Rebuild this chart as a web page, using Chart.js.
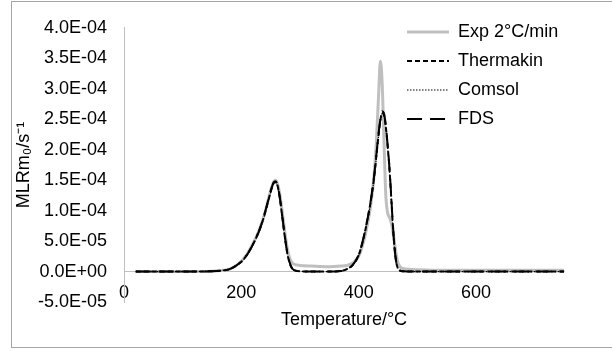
<!DOCTYPE html>
<html>
<head>
<meta charset="utf-8">
<script src="https://cdn.jsdelivr.net/npm/chart.js@4.4.1/dist/chart.umd.min.js"></script>
<style>
  html, body { margin: 0; padding: 0; background: #fff; }
  #wrap { position: relative; width: 612px; height: 351px; overflow: hidden; }
  #frame { position: absolute; left: 11px; top: 1px; width: 700px; height: 347px; box-sizing: border-box;
           border: 1px solid #a6a6a6; pointer-events: none; }
</style>
</head>
<body>
<div id="wrap">
  <canvas id="mlr" width="612" height="351"></canvas>
  <div id="frame"></div>
</div>
<script>
// temperature (°C) shared by all series
const temps = [20, 50, 100, 150, 170, 180, 190, 200, 210, 220,
  230, 235, 240, 245, 250, 255, 258, 262, 266, 270,
  274, 278, 282, 286, 290, 300, 320, 350, 370, 380,
  390, 400, 405, 410, 420, 426, 430, 434, 437, 440,
  443, 446, 449, 452, 455, 458, 461, 464, 468, 475,
  500, 550, 600, 650, 700, 750];

const expData = [0, 0, 0, 0.005e-4, 0.02e-4, 0.04e-4, 0.09e-4, 0.17e-4, 0.29e-4, 0.46e-4,
  0.67e-4, 0.80e-4, 0.96e-4, 1.14e-4, 1.33e-4, 1.47e-4, 1.50e-4, 1.43e-4, 1.24e-4, 0.96e-4,
  0.66e-4, 0.40e-4, 0.23e-4, 0.15e-4, 0.12e-4, 0.10e-4, 0.09e-4, 0.08e-4, 0.09e-4, 0.10e-4,
  0.14e-4, 0.25e-4, 0.38e-4, 0.55e-4, 1.05e-4, 1.55e-4, 2.10e-4, 2.90e-4, 3.45e-4, 3.10e-4,
  2.20e-4, 1.30e-4, 0.98e-4, 0.90e-4, 0.82e-4, 0.68e-4, 0.48e-4, 0.28e-4, 0.12e-4, 0.05e-4,
  0.03e-4, 0.02e-4, 0.02e-4, 0.02e-4, 0.02e-4, 0.02e-4];

const thermakinData = [0, 0, 0, 0.005e-4, 0.02e-4, 0.04e-4, 0.09e-4, 0.16e-4, 0.28e-4, 0.45e-4,
  0.66e-4, 0.79e-4, 0.95e-4, 1.13e-4, 1.31e-4, 1.45e-4, 1.47e-4, 1.40e-4, 1.18e-4, 0.88e-4,
  0.58e-4, 0.32e-4, 0.15e-4, 0.06e-4, 0.025e-4, 0.005e-4, 0, 0, 0.01e-4, 0.04e-4,
  0.11e-4, 0.27e-4, 0.42e-4, 0.62e-4, 1.12e-4, 1.52e-4, 1.88e-4, 2.25e-4, 2.48e-4, 2.61e-4,
  2.58e-4, 2.40e-4, 2.10e-4, 1.75e-4, 1.30e-4, 0.80e-4, 0.40e-4, 0.15e-4, 0.04e-4, 0.005e-4,
  0, 0, 0, 0, 0, 0];

const comsolData = [0, 0, 0, 0.005e-4, 0.02e-4, 0.04e-4, 0.09e-4, 0.16e-4, 0.27e-4, 0.44e-4,
  0.65e-4, 0.78e-4, 0.94e-4, 1.12e-4, 1.30e-4, 1.44e-4, 1.46e-4, 1.39e-4, 1.17e-4, 0.87e-4,
  0.57e-4, 0.31e-4, 0.15e-4, 0.06e-4, 0.02e-4, 0.005e-4, 0, 0, 0.01e-4, 0.04e-4,
  0.11e-4, 0.26e-4, 0.41e-4, 0.61e-4, 1.10e-4, 1.50e-4, 1.86e-4, 2.23e-4, 2.46e-4, 2.59e-4,
  2.56e-4, 2.38e-4, 2.08e-4, 1.73e-4, 1.28e-4, 0.79e-4, 0.39e-4, 0.15e-4, 0.04e-4, 0.005e-4,
  0, 0, 0, 0, 0, 0];

const fdsData = [0, 0, 0, 0.005e-4, 0.02e-4, 0.04e-4, 0.09e-4, 0.17e-4, 0.28e-4, 0.45e-4,
  0.66e-4, 0.80e-4, 0.96e-4, 1.14e-4, 1.32e-4, 1.46e-4, 1.48e-4, 1.41e-4, 1.19e-4, 0.89e-4,
  0.59e-4, 0.33e-4, 0.16e-4, 0.06e-4, 0.025e-4, 0.005e-4, 0, 0, 0.01e-4, 0.04e-4,
  0.11e-4, 0.27e-4, 0.43e-4, 0.63e-4, 1.13e-4, 1.54e-4, 1.90e-4, 2.27e-4, 2.50e-4, 2.63e-4,
  2.60e-4, 2.42e-4, 2.12e-4, 1.77e-4, 1.32e-4, 0.82e-4, 0.41e-4, 0.16e-4, 0.04e-4, 0.005e-4,
  0, 0, 0, 0, 0, 0];

const seriesNames = ['Exp 2°C/min', 'Thermakin', 'Comsol', 'FDS'];
const xTitle = 'Temperature/°C';
const yTitle = 'MLRm₀/s⁻¹';

const FONT = "'Liberation Sans', Arial, sans-serif";

const pts = arr => temps.map((t, i) => ({x: t, y: arr[i]}));

// Excel style 4.0E-04
const sci = v => {
  if (Math.abs(v) < 1e-12) v = 0;
  const [m, e] = v.toExponential(1).split('e');
  const n = parseInt(e, 10);
  return m + 'E' + (n < 0 ? '-' : '+') + String(Math.abs(n)).padStart(2, '0');
};

// put the legend inside the plot at the upper right
const legendSpot = {
  id: 'legendSpot',
  afterLayout(chart) {
    const lg = chart.legend;
    lg.left = 396;
    lg.top = 12;
    lg.right = lg.left + lg.width;
    lg.bottom = lg.top + 150;
  }
};

// legend samples take the dash and width of the line itself
const lineLabels = chart => {
  const items = Chart.defaults.plugins.legend.labels.generateLabels(chart);
  items.forEach(it => {
    const ds = chart.data.datasets[it.datasetIndex];
    it.lineDash = ds.borderDash || [];
    it.lineWidth = ds.borderWidth;
    it.strokeStyle = ds.borderColor;
    it.fillStyle = ds.borderColor;
  });
  return items;
};

const ctx = document.getElementById('mlr').getContext('2d');
new Chart(ctx, {
  type: 'line',
  data: {
    datasets: [
      { label: seriesNames[0], data: pts(expData), borderColor: '#bfbfbf', backgroundColor: '#bfbfbf',
        borderWidth: 3, order: 4 },
      { label: seriesNames[1], data: pts(thermakinData), borderColor: '#000', backgroundColor: '#000',
        borderWidth: 2, borderDash: [5, 3], order: 3 },
      { label: seriesNames[2], data: pts(comsolData), borderColor: '#000', backgroundColor: '#000',
        borderWidth: 1.2, borderDash: [1.5, 1.5], order: 2 },
      { label: seriesNames[3], data: pts(fdsData), borderColor: '#000', backgroundColor: '#000',
        borderWidth: 2, borderDash: [15, 8], order: 1 }
    ]
  },
  options: {
    responsive: false,
    animation: false,
    layout: { padding: { left: 0, right: 48, top: 18, bottom: 49 } },
    elements: {
      point: { radius: 0, hoverRadius: 0 },
      line: { cubicInterpolationMode: 'monotone', fill: false }
    },
    scales: {
      x: {
        type: 'linear',
        position: { y: 0 },
        min: 0,
        max: 750,
        grid: { display: false, drawTicks: false },
        border: { display: true, color: '#bfbfbf', width: 1 },
        ticks: { stepSize: 200, includeBounds: false, padding: 11, color: '#000',
                 font: { family: FONT, size: 18 } },
        title: { display: true, text: xTitle, color: '#000', padding: { top: -6, bottom: 0 },
                 font: { family: FONT, size: 18 } }
      },
      y: {
        min: -5e-5,
        max: 4e-4,
        afterFit: s => { s.width = 124; },
        grid: { display: false, drawTicks: false },
        border: { display: true, color: '#bfbfbf', width: 1 },
        ticks: { stepSize: 5e-5, padding: 17, color: '#000', callback: v => sci(v),
                 font: { family: FONT, size: 18 } },
        title: { display: true, text: yTitle, color: '#000', padding: { top: 13, bottom: 0 },
                 font: { family: FONT, size: 18 } }
      }
    },
    plugins: {
      tooltip: { enabled: false },
      legend: {
        position: 'chartArea',
        align: 'start',
        labels: {
          usePointStyle: true,
          pointStyle: 'line',
          pointStyleWidth: 42,
          padding: 11,
          color: '#000',
          font: { family: FONT, size: 18 },
          generateLabels: lineLabels,
          sort: (a, b) => a.datasetIndex - b.datasetIndex
        }
      }
    }
  },
  plugins: [legendSpot]
});
</script>
</body>
</html>
